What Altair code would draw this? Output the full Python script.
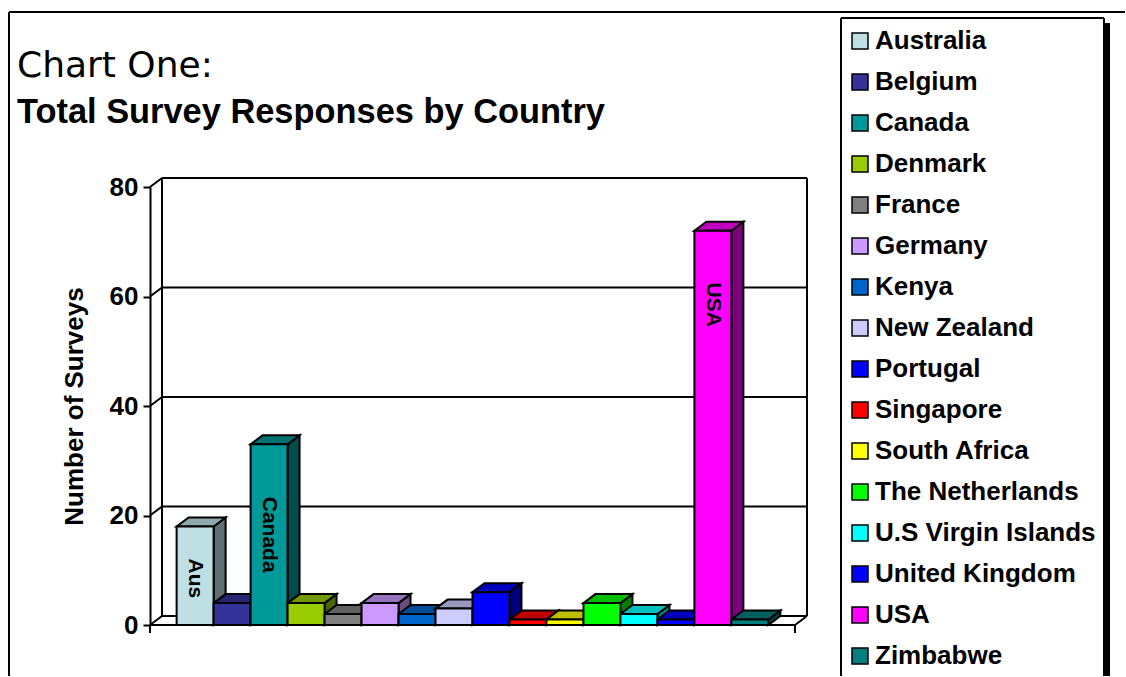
import altair as alt
import pandas as pd

# ---------------- data ----------------
countries = ["Australia", "Belgium", "Canada", "Denmark", "France", "Germany",
             "Kenya", "New Zealand", "Portugal", "Singapore", "South Africa",
             "The Netherlands", "U.S Virgin Islands", "United Kingdom", "USA",
             "Zimbabwe"]
surveys = [18, 4, 33, 4, 2, 4, 2, 3, 6, 1, 1, 4, 2, 1, 72, 1]

label_countries = ["Australia", "Canada", "USA"]
label_texts = ["Aus", "Canada", "USA"]
label_heights = [8.5, 16.5, 58.5]

y_ticks = [0, 20, 40, 60, 80]

# ---------------- style ----------------
front_colors = ["#BEE0E4", "#333399", "#009999", "#99CC00", "#808080", "#CC99FF",
                "#0066CC", "#CCCCFF", "#0000FF", "#FF0000", "#FFFF00", "#00FF00",
                "#00FFFF", "#0000FF", "#FF00FF", "#008080"]

W, H = 645, 438
Y_MAX = 80
OUTER = 0.72
XMAX = len(countries) + 2 * OUTER
DX_PX, DY_PX = 12, 9
dx = DX_PX * XMAX / W
dy = DY_PX * Y_MAX / H
tick_u = 8 * Y_MAX / H
BOLD = "Liberation Sans"


def shade(hex_color, f):
    h = hex_color.lstrip("#")
    r, g, b = (int(h[k:k + 2], 16) for k in (0, 2, 4))
    return "#%02X%02X%02X" % (int(r * f), int(g * f), int(b * f))


front_rows, face_rows = [], []
for i, (c, v, col) in enumerate(zip(countries, surveys, front_colors)):
    x0 = OUTER + i
    x1 = x0 + 1
    front_rows.append(dict(country=c, x0=x0, x1=x1, v=v))
    side, top = shade(col, 0.5), shade(col, 0.75)
    face_rows += [
        dict(face=f"{i:02d}s", x=x1, y=v, y2=0, fill=side),
        dict(face=f"{i:02d}s", x=x1 + dx, y=v + dy, y2=dy, fill=side),
        dict(face=f"{i:02d}t", x=x0, y=v, y2=v, fill=top),
        dict(face=f"{i:02d}t", x=x0 + dx, y=v + dy, y2=v, fill=top),
        dict(face=f"{i:02d}t", x=x1, y=v + dy, y2=v, fill=top),
        dict(face=f"{i:02d}t", x=x1 + dx, y=v + dy, y2=v + dy, fill=top),
    ]

wall_rows = []
for t in y_ticks:
    wall_rows.append(dict(x=dx, x2=XMAX + dx, y=t + dy, y2=t + dy))
    wall_rows.append(dict(x=0, x2=dx, y=t, y2=t + dy))
wall_rows += [
    dict(x=dx, x2=dx, y=dy, y2=Y_MAX + dy),
    dict(x=XMAX + dx, x2=XMAX + dx, y=dy, y2=Y_MAX + dy),
    dict(x=0, x2=XMAX, y=0, y2=0),
    dict(x=XMAX, x2=XMAX + dx, y=0, y2=dy),
    dict(x=0, x2=0, y=0, y2=-tick_u),
    dict(x=XMAX, x2=XMAX, y=0, y2=-tick_u),
]

label_rows = []
for c, t, h in zip(label_countries, label_texts, label_heights):
    i = countries.index(c)
    label_rows.append(dict(xc=OUTER + i + 0.5, h=h, t=t))

front_df = pd.DataFrame(front_rows)
face_df = pd.DataFrame(face_rows)
wall_df = pd.DataFrame(wall_rows)
label_df = pd.DataFrame(label_rows)

xs = alt.Scale(domain=[0, XMAX], nice=False, zero=False)
ys = alt.Scale(domain=[0, Y_MAX], nice=False)
y_axis = alt.Axis(
    values=y_ticks, title="Number of Surveys", titleFont=BOLD,
    titleFontSize=26, titleFontWeight="bold", titleColor="black",
    titlePadding=22, labelFont=BOLD, labelFontSize=26,
    labelFontWeight="bold", labelColor="black", labelPadding=5,
    tickSize=7, tickColor="black", tickWidth=2, domainColor="black",
    domainWidth=2, grid=False)

walls = alt.Chart(wall_df).mark_rule(color="black", strokeWidth=2).encode(
    x=alt.X("x:Q", scale=xs, axis=None), x2="x2:Q",
    y=alt.Y("y:Q", scale=ys, axis=y_axis), y2="y2:Q")

faces = alt.Chart(face_df).mark_area(stroke="black", strokeWidth=2,
                                     opacity=1, interpolate="linear").encode(
    x=alt.X("x:Q", scale=xs, axis=None),
    y=alt.Y("y:Q", scale=ys, axis=y_axis), y2="y2:Q",
    detail="face:N",
    color=alt.Color("fill:N", scale=None))

fronts = alt.Chart(front_df).mark_rect(stroke="black", strokeWidth=2).encode(
    x=alt.X("x0:Q", scale=xs, axis=None), x2="x1:Q",
    y=alt.Y("v:Q", scale=ys, axis=y_axis),
    y2=alt.datum(0),
    color=alt.Color("country:N", scale=alt.Scale(domain=countries, range=front_colors),
                    legend=alt.Legend(
                        orient="none", legendX=688, legendY=-168, title=None,
                        padding=9, symbolType="square", symbolSize=256,
                        symbolStrokeColor="black", symbolStrokeWidth=1.5,
                        symbolOpacity=1, labelFont=BOLD, labelFontSize=26,
                        labelFontWeight="bold", labelColor="black",
                        labelOffset=2, rowPadding=15, labelLimit=400)))

labels = alt.Chart(label_df).mark_text(angle=90, font=BOLD, fontSize=21,
                                       fontWeight="bold", color="black").encode(
    x=alt.X("xc:Q", scale=xs, axis=None),
    y=alt.Y("h:Q", scale=ys, axis=y_axis),
    text="t:N")

one = pd.DataFrame({"k": [0]})
deco = [
    # outer chart frame
    alt.Chart(one).mark_rule(color="black", strokeWidth=2).encode(
        x=alt.value(-141), x2=alt.value(975), y=alt.value(-175)),
    alt.Chart(one).mark_rule(color="black", strokeWidth=2).encode(
        x=alt.value(-141), y=alt.value(-175), y2=alt.value(489)),
    # legend box + shadow
    alt.Chart(one).mark_rule(color="black", strokeWidth=2).encode(
        x=alt.value(691), x2=alt.value(954), y=alt.value(-169)),
    alt.Chart(one).mark_rule(color="black", strokeWidth=2).encode(
        x=alt.value(691), y=alt.value(-169), y2=alt.value(489)),
    alt.Chart(one).mark_rule(color="black", strokeWidth=2).encode(
        x=alt.value(954), y=alt.value(-169), y2=alt.value(489)),
    alt.Chart(one).mark_rule(color="black", strokeWidth=5).encode(
        x=alt.value(957.5), y=alt.value(-164), y2=alt.value(489)),
    # titles
    alt.Chart(one).mark_text(text="Chart One:", align="left", baseline="alphabetic",
                             font="DejaVu Sans", fontSize=36, color="black").encode(
        x=alt.value(-133), y=alt.value(-110)),
    alt.Chart(one).mark_text(text="Total Survey Responses by Country", align="left",
                             baseline="alphabetic", font=BOLD, fontSize=34.4,
                             fontWeight="bold", color="black").encode(
        x=alt.value(-133), y=alt.value(-64)),
]

chart = alt.layer(walls, faces, fronts, labels, *deco).properties(
    width=W, height=H,
    padding={"left": 8, "top": 11, "right": 0, "bottom": 0},
    background="white",
).configure_view(stroke=None)

chart.save("out.html", embed_options={"renderer": "svg", "actions": False})
